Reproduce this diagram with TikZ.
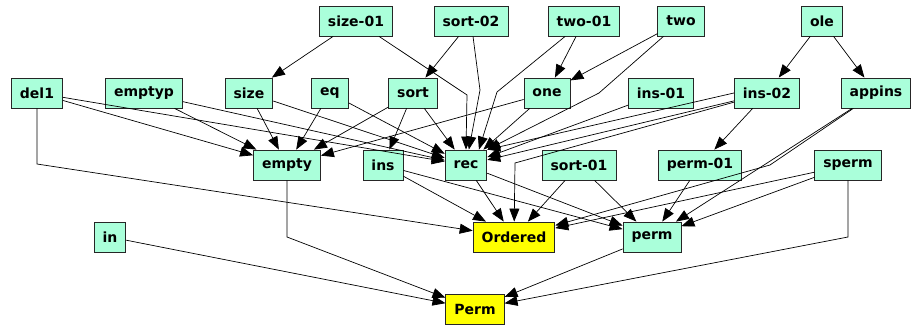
\documentclass[tikz,border=0pt]{standalone}
\usepackage{fontspec}
\usetikzlibrary{arrows.meta}
\newfontfamily\conceptfont{DejaVu Sans}
\definecolor{mint}{RGB}{170,255,218}
\definecolor{goalyellow}{RGB}{255,255,0}
\tikzset{
  concept/.style={draw=black!85, fill=mint, line width=0.8pt,
    font=\conceptfont\bfseries\fontsize{14}{16}\selectfont,
    minimum height=30pt, inner xsep=8.5pt, inner ysep=0pt},
  goal/.style={concept, fill=goalyellow},
  dep/.style={-{Triangle[length=13pt,width=10pt]}, line width=0.7pt},
}
\begin{document}
\begin{tikzpicture}[x=1pt, y=-1pt]
    \useasboundingbox (0,0) rectangle (913,326);

    % top row
    \node[concept] (size01) at (356,21) {size-01};
    \node[concept] (sort02) at (471,21) {sort-02};
    \node[concept] (two01)  at (584,21) {two-01};
    \node[concept] (two)    at (681,21) {two};
    \node[concept] (ole)    at (822,21) {ole};

    \node[concept] (del1)   at (37,93)  {del1};
    \node[concept] (emptyp) at (144,93) {emptyp};
    \node[concept] (size)   at (249,93) {size};
    \node[concept] (eq)     at (330,93) {eq};
    \node[concept] (sort)   at (413,93) {sort};
    \node[concept] (one)    at (547,93) {one};
    \node[concept] (ins01)  at (661,93) {ins-01};
    \node[concept] (ins02)  at (767,93) {ins-02};
    \node[concept] (appins) at (876,93) {appins};

    \node[concept] (empty)  at (287,165) {empty};
    \node[concept] (ins)    at (383,165) {ins};
    \node[concept] (rec)    at (466,165) {rec};
    \node[concept] (sort01) at (579,165) {sort-01};
    \node[concept] (perm01) at (700,165) {perm-01};
    \node[concept] (sperm)  at (848,165) {sperm};

    \node[concept] (in)      at (110,237) {in};
    \node[goal]    (Ordered) at (514,237) {Ordered};
    \node[concept] (perm)    at (652,237) {perm};

    \node[goal]    (Perm)    at (475,309) {Perm};

    % straight edges
    \foreach \a/\b in {size01/size, sort02/sort, two01/one, two/one, ole/ins02, ole/appins,
        del1/empty, del1/rec, emptyp/empty, emptyp/rec, size/empty, size/rec,
        eq/empty, eq/rec, sort/empty, sort/ins, sort/rec, one/empty, one/rec,
        ins01/rec, ins02/rec, ins02/perm01, appins/perm,
        ins/Ordered, ins/perm, rec/Ordered, rec/perm, sort01/Ordered, sort01/perm,
        perm01/perm, sperm/Ordered, sperm/perm, in/Perm, perm/Perm} {
      \draw[dep] (\a) -- (\b);
    }
    \draw[dep] (ins02.west) -- (rec.north east);

    % bent edges
    \draw[dep] (size01) -- (467,95) -- (rec.north);
    \draw[dep] (sort02) -- (480,90) -- (rec);
    \draw[dep] (two01) -- (497,92) -- (rec.50);
    \draw[dep] (two) -- (599,93) -- (rec.north east);
    \draw[dep] (ins02) -- (515,163) -- (Ordered);
    \draw[dep] (appins) -- (770,165) -- (Ordered);
    \draw[dep] (del1) -- (37,164) -- (Ordered);
    \draw[dep] (empty) -- (287,237) -- (Perm);
    \draw[dep] (sperm) -- (848,237) -- (Perm);

  \end{tikzpicture}
\end{document}
